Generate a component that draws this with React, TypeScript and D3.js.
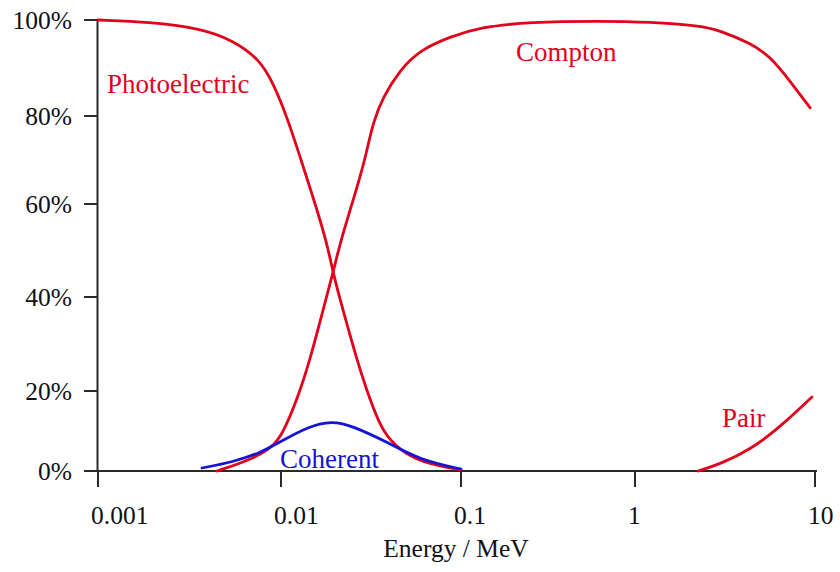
import React from "react";
import * as d3 from "d3";

const xTickValues = [0.001, 0.01, 0.1, 1, 10];
const xTickLabels = ["0.001", "0.01", "0.1", "1", "10"];
const yTickValues = [0, 20, 40, 60, 80, 100];
const yTickLabels = ["0%", "20%", "40%", "60%", "80%", "100%"];

const photoE = [0.001, 0.00192, 0.0036, 0.00547, 0.00768, 0.00904, 0.0108, 0.01276, 0.01507, 0.01802, 0.01945, 0.0221, 0.0264, 0.0312, 0.0369, 0.0458, 0.0592, 0.1];
const photoP = [100, 99.6, 98.3, 95.8, 91.7, 86.9, 79.8, 70.7, 61.6, 51.6, 45.2, 37.2, 26.6, 17.75, 9.5, 5.25, 2.25, 0.25];

const comptonE = [0.00447, 0.00678, 0.00904, 0.01026, 0.01227, 0.01449, 0.01711, 0.01945, 0.0213, 0.0242, 0.0275, 0.0301, 0.0324, 0.0369, 0.0458, 0.0592, 0.0869, 0.1285, 0.249, 0.63, 1.21, 2.3, 2.97, 4.35, 5.62, 7.26, 9.4];
const comptonP = [0, 2.75, 6, 9.5, 17.75, 26.6, 37.2, 45.2, 51.6, 58.7, 66.1, 72.3, 78.4, 84, 89.6, 93.75, 96.5, 98.5, 99.6, 99.8, 99.6, 98.8, 97.8, 95.2, 92.5, 87.3, 81.7];

const pairE = [2.24, 2.97, 4.35, 6.4, 9.62];
const pairP = [0, 1.75, 5.25, 11, 18.5];

const coherentE = [0.0037, 0.00547, 0.00768, 0.00988, 0.01394, 0.0192, 0.0251, 0.0388, 0.0592, 0.1];
const coherentP = [0.75, 2.25, 4.5, 7.25, 11, 12.6, 11.2, 7.25, 2.75, 0.5];

const RED = "#e3001b";
const BLUE = "#1414d8";
const FONT = '"Liberation Serif", "DejaVu Serif", "Times New Roman", Times, serif';

export default function App() {
  const x = d3.scaleLog().domain([0.001, 0.01, 0.1, 1, 10]).range([98, 281, 461, 635, 815]);
  const y = d3.scaleLinear().domain([0, 20, 40, 60, 80, 100]).range([471, 391, 297, 204, 116, 20]);

  const line = d3
    .line<[number, number]>()
    .x((d) => x(d[0]))
    .y((d) => y(d[1]))
    .curve(d3.curveBasis);

  const zip = (e: number[], p: number[]) => e.map((v, i) => [v, p[i]] as [number, number]);

  const series = [
    { e: photoE, p: photoP, color: RED },
    { e: comptonE, p: comptonP, color: RED },
    { e: pairE, p: pairP, color: RED },
    { e: coherentE, p: coherentP, color: BLUE },
  ];

  const axisColor = "#2a2a2a";
  const ts = { fontFamily: FONT };

  return (
    <svg
      width={840}
      height={572}
      style={{ position: "absolute", left: 0, top: 0, background: "#fff", fontFamily: FONT }}
    >
      <line x1={97.5} x2={97.5} y1={y(100) - 1} y2={y(0)} stroke={axisColor} strokeWidth={2} />
      <line x1={97} x2={817} y1={y(0)} y2={y(0)} stroke={axisColor} strokeWidth={2} />
      {yTickValues.map((v, i) => (
        <g key={"y" + v}>
          <line x1={84} x2={98} y1={y(v)} y2={y(v)} stroke={axisColor} strokeWidth={2} />
          <text x={72} y={y(v) + 9} textAnchor="end" fontSize={25.5} fill="#111" style={ts}>
            {yTickLabels[i]}
          </text>
        </g>
      ))}
      {xTickValues.map((v, i) => (
        <g key={"x" + v}>
          <line x1={x(v)} x2={x(v)} y1={y(0)} y2={y(0) + 16} stroke={axisColor} strokeWidth={2} />
          <text x={x(v) - 7} y={524} textAnchor="start" fontSize={25.5} fill="#111" style={ts}>
            {xTickLabels[i]}
          </text>
        </g>
      ))}
      <text x={456} y={557} textAnchor="middle" fontSize={25.5} fill="#111" style={ts}>
        Energy / MeV
      </text>

      {series.map((s, i) => (
        <path
          key={i}
          d={line(zip(s.e, s.p)) || ""}
          fill="none"
          stroke={s.color}
          strokeWidth={2.8}
          strokeLinecap="round"
        />
      ))}

      <text x={107} y={93} fontSize={27} fill={RED} style={ts}>Photoelectric</text>
      <text x={516} y={61} fontSize={27} fill={RED} style={ts}>Compton</text>
      <text x={722} y={427} fontSize={27} fill={RED} style={ts}>Pair</text>
      <text x={280} y={468} fontSize={27} fill={BLUE} style={ts}>Coherent</text>
    </svg>
  );
}
